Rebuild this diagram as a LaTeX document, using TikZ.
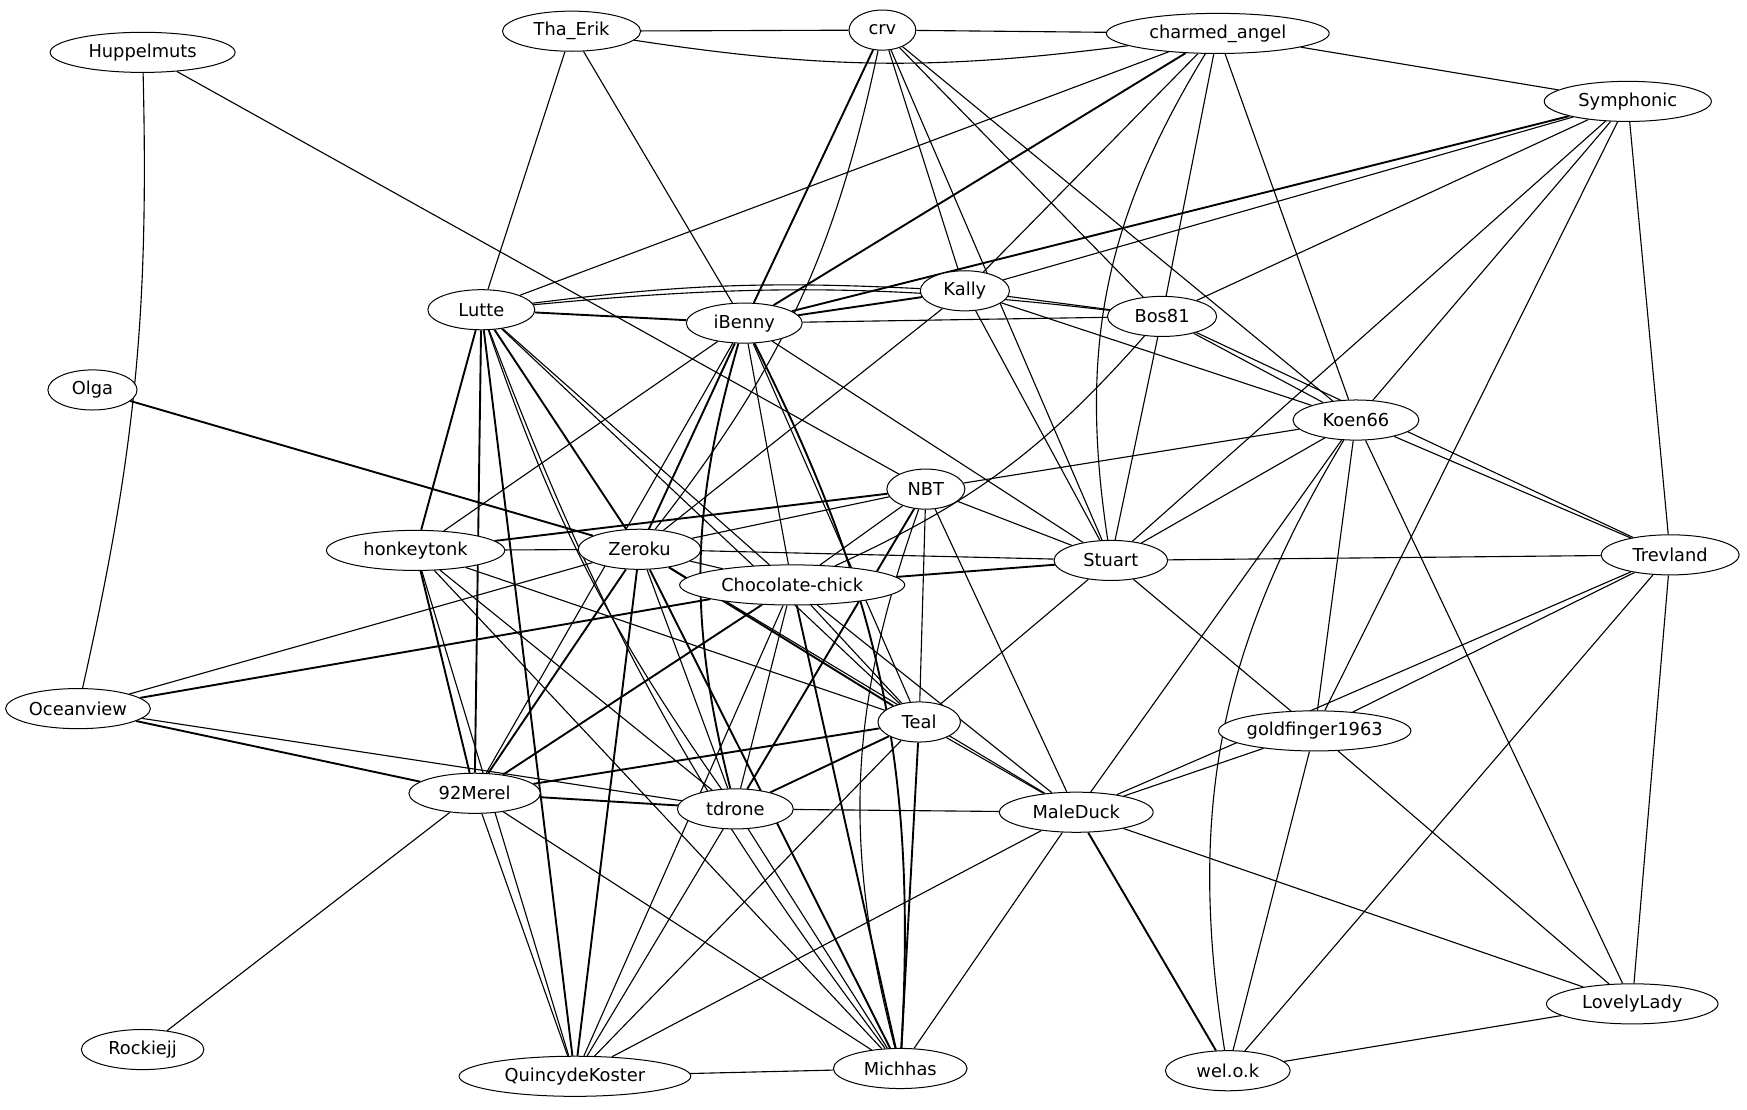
\documentclass[tikz,border=0pt]{standalone}
\usepackage{fontspec}
\setmainfont{DejaVu Sans}
\usetikzlibrary{shapes.geometric,backgrounds}
\begin{document}
\begin{tikzpicture}[x=1pt,y=1pt,
  nd/.style={ellipse,draw,line width=0.9pt,fill=white,inner sep=0pt,minimum height=36pt,font=\fontsize{16}{16}\selectfont},
  ed/.style={line width=1.0pt},
  dd/.style={line width=1.7pt}]
\useasboundingbox (0,0) rectangle (1568,-995.4);
\node[nd,minimum width=166pt] (Hup) at (128,-47) {Huppelmuts};
\node[nd,minimum width=124pt] (Tha) at (513,-28) {Tha\_Erik};
\node[nd,minimum width=60pt] (crv) at (792,-27) {crv};
\node[nd,minimum width=200pt] (cha) at (1093,-30) {charmed\_angel};
\node[nd,minimum width=150pt] (Sym) at (1461,-91) {Symphonic};
\node[nd,minimum width=80pt] (Olga) at (83,-350) {Olga};
\node[nd,minimum width=96pt] (Lut) at (432,-278) {Lutte};
\node[nd,minimum width=104pt] (iBe) at (668,-290) {iBenny};
\node[nd,minimum width=80pt] (Kal) at (866,-261) {Kally};
\node[nd,minimum width=98pt] (Bos) at (1043,-284) {Bos81};
\node[nd,minimum width=113pt] (Koe) at (1217,-377) {Koen66};
\node[nd,minimum width=70pt] (NBT) at (831,-439) {NBT};
\node[nd,minimum width=160pt] (hon) at (373,-494) {honkeytonk};
\node[nd,minimum width=110pt] (Zer) at (574,-493) {Zeroku};
\node[nd,minimum width=102pt] (Stu) at (997,-503) {Stuart};
\node[nd,minimum width=124pt] (Tre) at (1499,-498) {Trevland};
\node[nd,minimum width=202pt] (Cho) at (711,-525) {Chocolate-chick};
\node[nd,minimum width=130pt] (Oce) at (70,-636) {Oceanview};
\node[nd,minimum width=74pt] (Teal) at (825,-648) {Teal};
\node[nd,minimum width=170pt] (gold) at (1180,-656) {goldfinger1963};
\node[nd,minimum width=118pt] (Mer) at (426,-712) {92Merel};
\node[nd,minimum width=104pt] (tdr) at (660,-726) {tdrone};
\node[nd,minimum width=138pt] (Mal) at (966,-729) {MaleDuck};
\node[nd,minimum width=110pt] (Roc) at (128,-942) {Rockiejj};
\node[nd,minimum width=208pt] (Qui) at (516,-966) {QuincydeKoster};
\node[nd,minimum width=120pt] (Mic) at (808,-959) {Michhas};
\node[nd,minimum width=112pt] (wel) at (1102,-961) {wel.o.k};
\node[nd,minimum width=154pt] (Lov) at (1465,-901) {LovelyLady};
\begin{scope}[on background layer]
\fill[white] (0,0) rectangle (1568,-995.4);
% top
\draw[ed] (Tha) -- (crv);
\draw[ed] (Tha) to[bend right=8] (cha);
\draw[ed] (crv) -- (cha);
\draw[ed] (cha) -- (Sym);
\draw[ed] (Tha) -- (Lut);
\draw[ed] (Tha) -- (iBe);
\draw[ed] (Hup) to[bend left=7] (Oce);
\draw[ed] (Hup) -- (NBT);
\draw[dd] (crv) -- (iBe);
\draw[ed] (crv) to[bend left=13] (Zer);
\draw[ed] (crv) -- (Kal);
\draw[ed] (crv) -- (Stu);
\draw[ed] (crv) -- (Bos);
\draw[ed] (crv) -- (Koe);
\draw[ed] (cha) -- (Lut);
\draw[dd] (cha) -- (iBe);
\draw[ed] (cha) -- (Kal);
\draw[ed] (cha) to[bend right=20] (Stu);
\draw[ed] (cha) -- (Bos);
\draw[ed] (cha) -- (Koe);
\draw[dd] (Sym) -- (iBe);
\draw[ed] (Sym) -- (Kal);
\draw[ed] (Sym) -- (Bos);
\draw[ed] (Sym) -- (Koe);
\draw[ed] (Sym) -- (Stu);
\draw[ed] (Sym) -- (gold);
\draw[ed] (Sym) -- (Tre);
% middle band
\draw[dd] (Lut) -- (iBe);
\draw[ed] (Lut) to[bend left=5] (Kal);
\draw[ed] (Lut) to[bend left=6] (Bos);
\draw[dd] (Kal) -- (iBe);
\draw[ed] (Kal) -- (Bos);
\draw[ed] (Kal) -- (Koe);
\draw[ed] (Kal) -- (Stu);
\draw[ed] (Kal) -- (Zer);
\draw[ed] (iBe) -- (Bos);
\draw[ed] (Bos) -- (Koe);
\draw[ed] (Bos) -- (Stu);
\draw[ed] (Bos) -- (Tre);
\draw[ed] (Bos) to[bend left=12] (Cho);
\draw[ed] (Koe) -- (NBT);
\draw[ed] (Koe) -- (Stu);
\draw[ed] (Koe) -- (Tre);
\draw[ed] (Koe) -- (gold);
\draw[ed] (Koe) -- (Mal);
\draw[ed] (Koe) to[bend right=20] (wel);
\draw[ed] (Koe) -- (Lov);
\draw[dd] (Olga) -- (Zer);
% Lutte
\draw[dd] (Lut) -- (hon);
\draw[dd] (Lut) -- (Mer);
\draw[dd] (Lut) -- (Qui);
\draw[dd] (Lut) -- (Zer);
\draw[ed] (Lut) -- (Cho);
\draw[ed] (Lut) -- (Teal);
\draw[ed] (Lut) to[bend right=8] (tdr);
\draw[ed] (Lut) to[bend right=8] (Mic);
% iBenny
\draw[ed] (iBe) -- (hon);
\draw[ed] (iBe) -- (Mer);
\draw[dd] (iBe) -- (Zer);
\draw[dd] (iBe) to[bend right=15] (tdr);
\draw[ed] (iBe) -- (Cho);
\draw[ed] (iBe) -- (Stu);
\draw[ed] (iBe) -- (Teal);
\draw[dd] (iBe) to[bend left=15] (Mic);
% NBT
\draw[dd] (NBT) -- (hon);
\draw[ed] (NBT) -- (Zer);
\draw[ed] (NBT) -- (Cho);
\draw[ed] (NBT) -- (Stu);
\draw[ed] (NBT) -- (Teal);
\draw[dd] (NBT) -- (tdr);
\draw[ed] (NBT) -- (Mal);
\draw[ed] (NBT) to[bend right=17] (Mic);
% honkeytonk
\draw[ed] (hon) -- (Zer);
\draw[dd] (hon) -- (Mer);
\draw[ed] (hon) -- (Teal);
\draw[ed] (hon) -- (tdr);
\draw[ed] (hon) -- (Qui);
\draw[ed] (hon) -- (Mic);
% Zeroku
\draw[ed] (Zer) -- (Stu);
\draw[ed] (Zer) -- (Cho);
\draw[ed] (Zer) -- (Oce);
\draw[dd] (Zer) -- (Mer);
\draw[dd] (Zer) -- (Qui);
\draw[dd] (Zer) -- (Teal);
\draw[ed] (Zer) -- (tdr);
\draw[dd] (Zer) -- (Mic);
\draw[ed] (Zer) -- (Mal);
% Stuart
\draw[dd] (Stu) -- (Cho);
\draw[ed] (Stu) -- (Tre);
\draw[ed] (Stu) -- (Teal);
\draw[ed] (Stu) -- (gold);
% Chocolate-chick
\draw[dd] (Cho) -- (Oce);
\draw[dd] (Cho) -- (Mer);
\draw[ed] (Cho) -- (Qui);
\draw[ed] (Cho) -- (tdr);
\draw[ed] (Cho) -- (Teal);
\draw[dd] (Cho) -- (Mic);
\draw[ed] (Cho) -- (Mal);
% Trevland
\draw[ed] (Tre) -- (gold);
\draw[ed] (Tre) -- (Mal);
\draw[ed] (Tre) -- (wel);
\draw[ed] (Tre) -- (Lov);
% lower
\draw[dd] (Oce) -- (Mer);
\draw[ed] (Oce) -- (tdr);
\draw[dd] (Teal) -- (Mer);
\draw[dd] (Teal) -- (tdr);
\draw[ed] (Teal) -- (Mal);
\draw[ed] (Teal) -- (Qui);
\draw[dd] (Teal) -- (Mic);
\draw[ed] (gold) -- (Mal);
\draw[ed] (gold) -- (wel);
\draw[ed] (gold) -- (Lov);
\draw[dd] (Mer) -- (tdr);
\draw[ed] (Mer) -- (Roc);
\draw[ed] (Mer) -- (Qui);
\draw[ed] (Mer) -- (Mic);
\draw[ed] (tdr) -- (Mal);
\draw[ed] (tdr) -- (Qui);
\draw[ed] (tdr) -- (Mic);
\draw[ed] (Mal) -- (Qui);
\draw[ed] (Mal) -- (Mic);
\draw[dd] (Mal) -- (wel);
\draw[ed] (Mal) -- (Lov);
\draw[ed] (Qui) -- (Mic);
\draw[ed] (wel) -- (Lov);
\end{scope}
\end{tikzpicture}
\end{document}
